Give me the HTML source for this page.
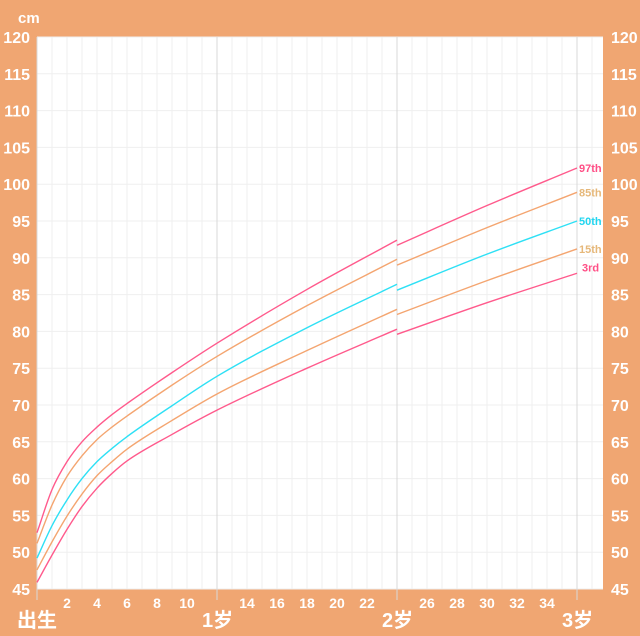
<!DOCTYPE html>
<html><head><meta charset="utf-8"><style>
body{margin:0;background:#f0a672;}
svg{display:block;font-family:"Liberation Sans","Noto Sans CJK SC",sans-serif;}
</style></head><body>
<svg id="c" width="640" height="636"></svg>
<script>
const ageA=[0,1,2,3,4,5,6,9,12,18,24];
const ageB=[24,30,36];
const p97A=[52.65,58.5,62.3,65.0,67.0,68.7,70.2,74.4,78.4,85.7,92.4];
const p85A=[51.2,56.4,60.3,63.1,65.3,67.0,68.5,72.7,76.6,83.5,89.8];
const p50A=[49.2,53.6,57.1,60.0,62.3,64.1,65.7,69.9,73.9,80.5,86.4];
const p15A=[47.6,51.4,54.9,57.9,60.4,62.3,64.0,67.9,71.5,77.4,83.0];
const p3A=[45.9,49.6,53.1,56.2,58.7,60.7,62.4,66.0,69.3,75.0,80.3];
const p97B=[91.7,97.1,102.2];
const p85B=[89.0,94.1,98.9];
const p50B=[85.6,90.5,95.0];
const p15B=[82.3,86.9,91.2];
const p3B=[79.6,83.9,87.9];
const yTicks=[45,50,55,60,65,70,75,80,85,90,95,100,105,110,115,120];
const xTicks=[2,4,6,8,10,14,16,18,20,22,26,28,30,32,34];
const yearLabels=["出生","1岁","2岁","3岁"];

const L=37,R=603,T=37,B=589;
const X=m=>L+m*15;
const Y=v=>B-(v-45)*(B-T)/75;
const NS="http://www.w3.org/2000/svg";
const svg=document.getElementById('c');
function mk(t,a,p){const e=document.createElementNS(NS,t);for(const k in a)e.setAttribute(k,a[k]);(p||svg).appendChild(e);return e;}
const bg=mk('rect',{x:L,y:T,width:R-L,height:B-T,fill:'#fff'});


for(let m=1;m*15+L<R;m++){if(m%12==0)continue;
 const l=mk('line',{x1:X(m),x2:X(m),y1:T,y2:B,stroke:'#efefef','stroke-width':1});
 
 }
yTicks.forEach(v=>{
 const l=mk('line',{x1:L,x2:R,y1:Y(v),y2:Y(v),stroke:'#efefef','stroke-width':1});
 
 
 const a=mk('text',{x:30,y:Y(v)+6,'text-anchor':'end',fill:'#fff','font-size':16,'font-weight':'bold'});a.textContent=v;
 
 
 const b=mk('text',{x:611,y:Y(v)+6,'text-anchor':'start',fill:'#fff','font-size':16,'font-weight':'bold'});b.textContent=v;
 
 
});
[0,12,24,36].forEach((m,i)=>{
 const l=mk('line',{x1:X(m),x2:X(m),y1:T,y2:600,stroke:'#d8d8d8','stroke-width':1});
 
 
 const t=mk('text',{x:i==0?37:X(m)-15,y:627,'text-anchor':i==0?'middle':'start',fill:'#fff','font-size':20,'font-weight':'bold'});
 t.textContent=yearLabels[i];
 
 
});
xTicks.forEach(m=>{
 const t=mk('text',{x:X(m),y:608,'text-anchor':'middle',fill:'#fff','font-size':14,'font-weight':'bold'});t.textContent=m;
 
 
});
const cm=mk('text',{x:18,y:23,fill:'#fff','font-size':15,'font-weight':'bold'});cm.textContent='cm';


// monotone cubic (Fritsch-Carlson)
function path(xs,ys){
 const n=xs.length,px=xs.map(X),py=ys.map(Y);
 const d=[],m=new Array(n);
 for(let i=0;i<n-1;i++)d.push((py[i+1]-py[i])/(px[i+1]-px[i]));
 m[0]=d[0];m[n-1]=d[n-2];
 for(let i=1;i<n-1;i++){m[i]=(d[i-1]*d[i]<=0)?0:(d[i-1]+d[i])/2;}
 for(let i=0;i<n-1;i++){if(d[i]===0){m[i]=m[i+1]=0;continue;}
  const a=m[i]/d[i],b=m[i+1]/d[i],s=a*a+b*b;
  if(s>9){const t=3/Math.sqrt(s);m[i]=t*a*d[i];m[i+1]=t*b*d[i];}}
 let s='M'+px[0]+','+py[0];
 for(let i=0;i<n-1;i++){const h=(px[i+1]-px[i])/3;
  s+=`C${px[i]+h},${py[i]+m[i]*h} ${px[i+1]-h},${py[i+1]-m[i+1]*h} ${px[i+1]},${py[i+1]}`;}
 return s;
}
const series=[
 ['97th',p97A,p97B,'#ff5a8c','#ff4f86'],
 ['85th',p85A,p85B,'#f4a570','#e6b87a'],
 ['50th',p50A,p50B,'#2ee0f5','#22d6f0'],
 ['15th',p15A,p15B,'#f4a570','#e6b87a'],
 ['3rd',p3A,p3B,'#ff5a8c','#ff4f86']];
series.forEach(s=>{
 const a=mk('path',{d:path(ageA,s[1]),fill:'none',stroke:s[3],'stroke-width':1.4});
 
 
 const b=mk('path',{d:path(ageB,s[2]),fill:'none',stroke:s[3],'stroke-width':1.4});
 
 
 const last=s[2][s[2].length-1];
 const t=mk('text',{x:s[0]=='3rd'?582:579,y:Y(last)+(s[0]=='3rd'?-2:4),fill:s[4],'font-size':11,'font-weight':'bold'});t.textContent=s[0];
 
 
});
</script>
</body></html>
